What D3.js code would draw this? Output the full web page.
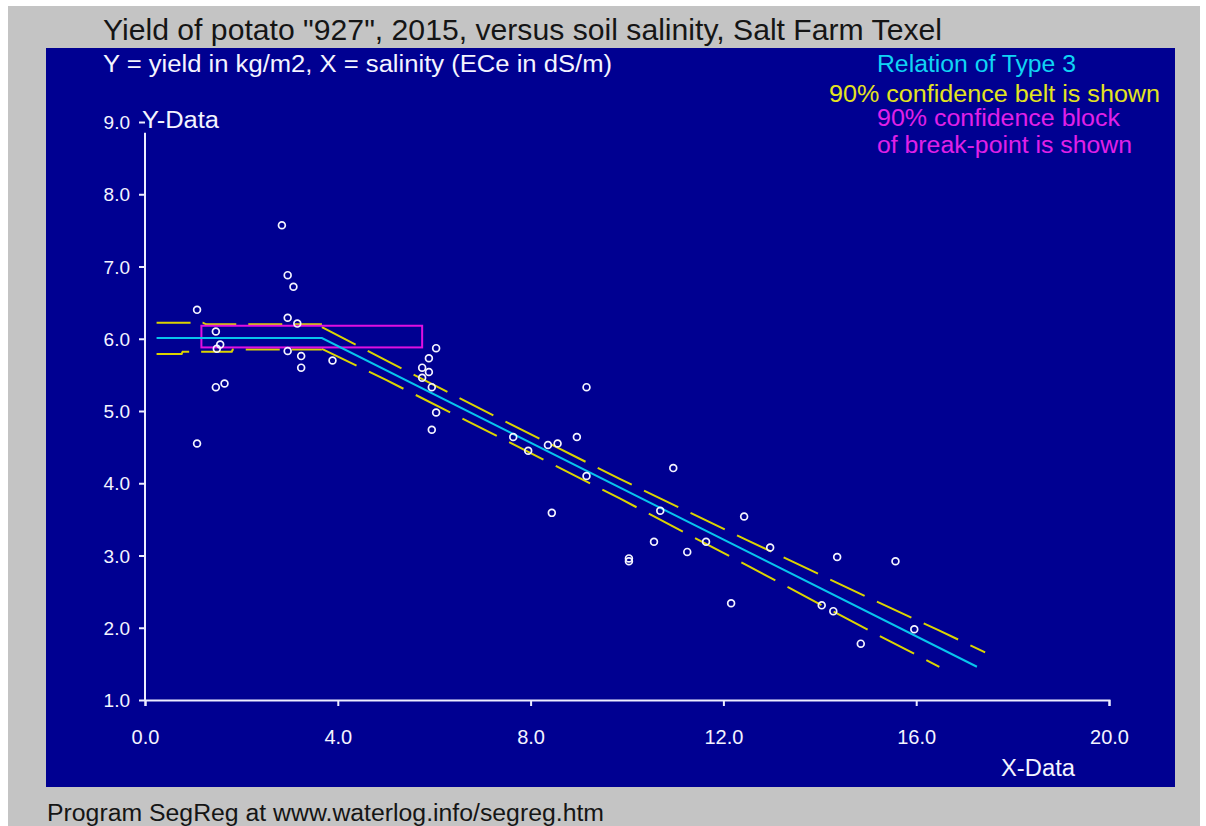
<!DOCTYPE html>
<html>
<head>
<meta charset="utf-8">
<script src="https://cdn.jsdelivr.net/npm/d3@7"></script>
<style>
  body { margin: 0; background: #ffffff; }
  svg { display: block; }
  text { font-family: "Liberation Sans", Arial, sans-serif; }
</style>
</head>
<body>
<svg id="chart" width="1206" height="826"></svg>
<script>
// ---------------- data ----------------
const salinity = [2.84, 2.96, 3.08, 1.08, 2.96, 3.16, 1.47, 1.56, 1.49, 2.96, 3.24, 3.89,
                  6.04, 5.89, 5.75, 5.89, 5.75, 5.95, 3.24, 1.47, 1.65, 6.04, 5.95, 1.08,
                  9.16, 7.64, 8.36, 8.56, 7.95, 8.96, 9.16, 8.44, 10.96, 10.69, 10.56, 11.64,
                  11.25, 10.04, 10.04, 12.43, 12.97, 14.36, 15.57, 12.16, 14.04, 14.28, 15.96, 14.85];
const yieldKg  = [7.57, 6.88, 6.72, 6.40, 6.29, 6.21, 6.10, 5.92, 5.86, 5.83, 5.76, 5.70,
                  5.87, 5.73, 5.60, 5.54, 5.46, 5.33, 5.60, 5.33, 5.38, 4.98, 4.74, 4.55,
                  5.33, 4.64, 4.53, 4.55, 4.45, 4.64, 4.10, 3.59, 4.21, 3.62, 3.19, 3.19,
                  3.05, 2.96, 2.92, 3.54, 3.11, 2.98, 2.92, 2.34, 2.31, 2.23, 1.98, 1.78];

const xTicks = [0, 4, 8, 12, 16, 20];
const yTicks = [1, 2, 3, 4, 5, 6, 7, 8, 9];

// segmented regression (Type 3): horizontal, then declining
const fitX = [0.24, 3.67, 17.26];
const fitY = [6.01, 6.01, 1.46];

// 90% confidence belt, horizontal part
const beltFlatUX = [0.24, 1.20, 1.27, 3.67];
const beltFlatU  = [6.22, 6.22, 6.20, 6.20];
const beltFlatLX = [0.24, 0.76, 0.78, 1.80, 1.82, 3.67];
const beltFlatL  = [5.79, 5.79, 5.82, 5.82, 5.85, 5.85];
// 90% confidence belt, sloping part
const beltSlopeUX = [3.67, 5.00, 7.49, 9.85, 12.50, 15.00, 16.45, 17.43];
const beltSlopeU  = [6.16, 5.70, 4.85, 4.06, 3.21, 2.42, 1.97, 1.66];
const beltSlopeLX = [3.67, 5.00, 7.49, 9.85, 12.50, 15.00, 16.48];
const beltSlopeL  = [5.86, 5.43, 4.59, 3.79, 2.86, 1.97, 1.46];

// 90% confidence block of the break-point
const blockX = [1.17, 5.75];
const blockY = [5.88, 6.18];

const titleText    = 'Yield of potato "927", 2015, versus soil salinity, Salt Farm Texel';
const subtitleText = 'Y = yield in kg/m2, X = salinity (ECe in dS/m)';
const legendLines  = ['Relation of Type 3', '90% confidence belt is shown',
                      '90% confidence block', 'of break-point is shown'];
const footerText   = 'Program SegReg at www.waterlog.info/segreg.htm';

// ---------------- drawing ----------------
const svg = d3.select('#chart');
const C = { bg: '#c4c4c4', panel: '#000091', axis: '#ececff', cyan: '#08c4ec',
            yellow: '#dcd400', magenta: '#e010e0', white: '#f4f4ff' };

svg.append('rect').attr('x', 8).attr('y', 6).attr('width', 1192).attr('height', 820).attr('fill', C.bg);
svg.append('rect').attr('x', 46).attr('y', 48).attr('width', 1129).attr('height', 739).attr('fill', C.panel);

const x = d3.scaleLinear().domain([0, 20]).range([145, 1109]);
const y = d3.scaleLinear().domain([1, 9]).range([700, 122]);

// x axis
const gx = svg.append('g').attr('transform', `translate(0,${y(1)})`)
  .call(d3.axisBottom(x).tickValues(xTicks).tickFormat(d3.format('.1f'))
        .tickSize(6).tickSizeOuter(6).tickPadding(24));
gx.select('.domain').attr('stroke', C.axis).attr('stroke-width', 2);
gx.selectAll('.tick line').attr('stroke', C.axis).attr('stroke-width', 2);
gx.selectAll('.tick text').attr('fill', C.white).attr('font-size', 20)
  .attr('font-family', '"Liberation Sans", Arial, sans-serif');

// y axis
const gy = svg.append('g').attr('transform', `translate(${x(0)},0)`)
  .call(d3.axisLeft(y).tickValues(yTicks).tickFormat(d3.format('.1f'))
        .tickSize(6).tickSizeOuter(0).tickPadding(9));
gy.select('.domain').remove();
gy.selectAll('.tick line').attr('stroke', C.axis).attr('stroke-width', 2);
gy.selectAll('.tick text').attr('fill', C.white).attr('font-size', 19).attr('dy', '0.35em')
  .attr('font-family', '"Liberation Sans", Arial, sans-serif');
gy.append('line').attr('x1', 0).attr('x2', 0).attr('y1', y(1) + 1).attr('y2', y(8.85))
  .attr('stroke', C.axis).attr('stroke-width', 2);

const line = d3.line().x(d => x(d[0])).y(d => y(d[1]));
const zip = (a, b) => a.map((v, i) => [v, b[i]]);

// confidence belt
const beltPaths = [
  [zip(beltFlatUX, beltFlatU), '34,12'],
  [zip(beltFlatLX, beltFlatL), '34,12'],
  [zip(beltSlopeUX, beltSlopeU), '38,13.6'],
  [zip(beltSlopeLX, beltSlopeL), '38.5,13.8']
];
beltPaths.forEach(([pts, dash]) => {
  svg.append('path').attr('d', line(pts)).attr('fill', 'none')
    .attr('stroke', C.yellow).attr('stroke-width', 2).attr('stroke-dasharray', dash);
});

// confidence block of break-point
svg.append('rect')
  .attr('x', x(blockX[0])).attr('y', y(blockY[1]))
  .attr('width', x(blockX[1]) - x(blockX[0])).attr('height', y(blockY[0]) - y(blockY[1]))
  .attr('fill', 'none').attr('stroke', C.magenta).attr('stroke-width', 2);

// regression line
svg.append('path').attr('d', line(zip(fitX, fitY))).attr('fill', 'none')
  .attr('stroke', C.cyan).attr('stroke-width', 2);

// data points
svg.append('g').selectAll('circle').data(zip(salinity, yieldKg)).join('circle')
  .attr('cx', d => x(d[0])).attr('cy', d => y(d[1])).attr('r', 3.4)
  .attr('fill', 'none').attr('stroke', C.white).attr('stroke-width', 1.7);

// texts
function txt(s, px, py, size, color, len) {
  const t = svg.append('text').attr('x', px).attr('y', py).attr('font-size', size)
    .attr('fill', color).text(s);
  if (len) t.attr('textLength', len).attr('lengthAdjust', 'spacingAndGlyphs');
  return t;
}
txt(titleText, 103, 40, 29, '#151515', 839);
txt(subtitleText, 103, 72, 23, C.white, 509);
txt(legendLines[0], 877, 72, 23, '#10d4f4', 199);
txt(legendLines[1], 829, 102, 23, '#e4e420', 331);
txt(legendLines[2], 877, 126, 23, '#e020e8', 243);
txt(legendLines[3], 877, 153, 23, '#e020e8', 255);
txt('Y-Data', 142, 128, 23, C.white, 77);
txt('X-Data', 1001, 776, 23, C.white, 74);
txt(footerText, 47, 821, 23, '#151515', 557);
</script>
</body>
</html>
